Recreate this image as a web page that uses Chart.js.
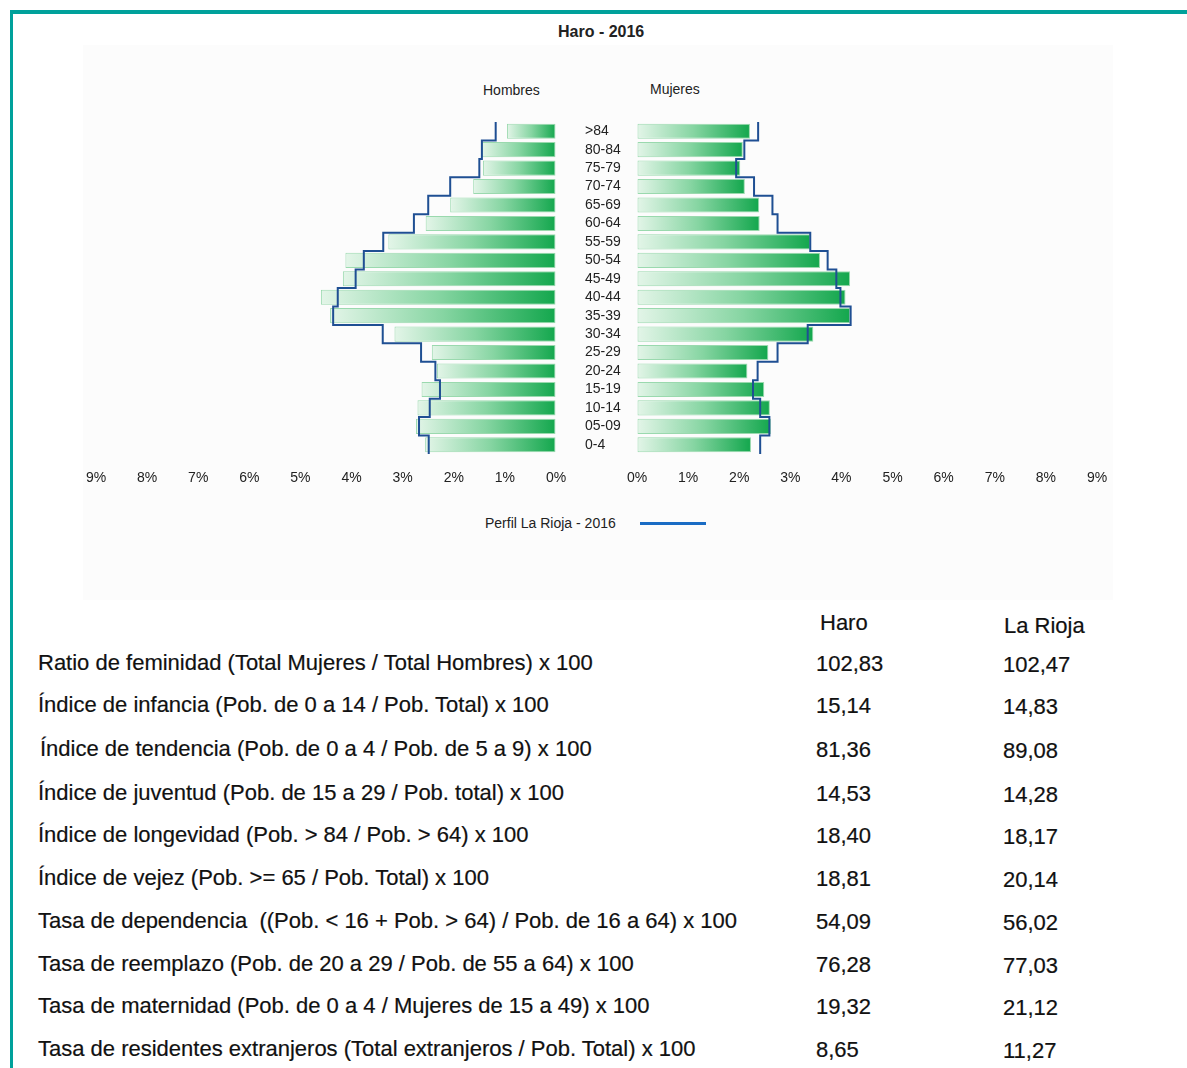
<!DOCTYPE html>
<html>
<head>
<meta charset="utf-8">
<script src="https://cdn.jsdelivr.net/npm/chart.js@4.4.1/dist/chart.umd.min.js"></script>
<style>
  html, body { margin: 0; padding: 0; background: #fff; }
  body { width: 1187px; height: 1068px; position: relative; overflow: hidden;
         font-family: "Liberation Sans", Arial, sans-serif; color: #1a1a1a; }
  #frame { position: absolute; left: 10px; top: 10px; width: 1200px; height: 1100px;
           border-top: 4px solid #00a19b; border-left: 3px solid #00a19b; }
  #chartbg { position: absolute; left: 83px; top: 45px; width: 1030px; height: 555px; background: #fcfcfc; }
  .lbl { position: absolute; white-space: nowrap; font-size: 14px; line-height: 16px; color: #222; }
  #title { left: 558px; top: 24px; font-weight: bold; font-size: 16px; }
  #legline { position: absolute; left: 640px; top: 522px; width: 66px; height: 3px; background: #1a6cc4; }
  canvas { position: absolute; }
  #left { left: 60px; top: 100px; }
  #right { left: 585px; top: 100px; }
  .t { position: absolute; white-space: pre; font-size: 22px; line-height: 24px; color: #111;
       -webkit-text-stroke: 0.2px #111; }
</style>
</head>
<body>
<div id="frame"></div>
<div id="chartbg"></div>
<div class="lbl" id="title">Haro - 2016</div>
<div class="lbl" style="left:483px; top:82px;">Hombres</div>
<div class="lbl" style="left:650px; top:81px;">Mujeres</div>
<div class="lbl" style="left:485px; top:515px;">Perfil La Rioja - 2016</div>
<div id="legline"></div>
<canvas id="left" width="520" height="390"></canvas>
<canvas id="right" width="540" height="390"></canvas>
<div id="table"></div>
<script>
const ageGroups = ['>84','80-84','75-79','70-74','65-69','60-64','55-59','50-54','45-49',
                   '40-44','35-39','30-34','25-29','20-24','15-19','10-14','05-09','0-4'];
// % of population, Haro 2016
const hombres = [0.96,1.45,1.43,1.62,2.07,2.55,3.28,4.12,4.17,4.60,4.42,3.16,2.43,2.33,2.63,2.71,2.74,2.56];
const mujeres = [2.21,2.07,2.02,2.11,2.39,2.40,3.39,3.58,4.17,4.08,4.17,3.45,2.57,2.16,2.49,2.60,2.62,2.23];
// La Rioja profile
const riojaHombres = [1.18,1.45,1.50,2.07,2.50,2.78,3.38,3.76,3.92,4.27,4.36,3.39,2.64,2.36,2.27,2.47,2.68,2.49];
const riojaMujeres = [2.37,2.10,1.94,2.29,2.65,2.75,3.39,3.73,3.90,3.98,4.18,3.34,2.75,2.36,2.27,2.41,2.59,2.41];

const indicators = [
  'Ratio de feminidad (Total Mujeres / Total Hombres) x 100',
  'Índice de infancia (Pob. de 0 a 14 / Pob. Total) x 100',
  'Índice de tendencia (Pob. de 0 a 4 / Pob. de 5 a 9) x 100',
  'Índice de juventud (Pob. de 15 a 29 / Pob. total) x 100',
  'Índice de longevidad (Pob. > 84 / Pob. > 64) x 100',
  'Índice de vejez (Pob. >= 65 / Pob. Total) x 100',
  'Tasa de dependencia  ((Pob. < 16 + Pob. > 64) / Pob. de 16 a 64) x 100',
  'Tasa de reemplazo (Pob. de 20 a 29 / Pob. de 55 a 64) x 100',
  'Tasa de maternidad (Pob. de 0 a 4 / Mujeres de 15 a 49) x 100',
  'Tasa de residentes extranjeros (Total extranjeros / Pob. Total) x 100'
];
const haroValues = ['102,83','15,14','81,36','14,53','18,40','18,81','54,09','76,28','19,32','8,65'];
const riojaValues = ['102,47','14,83','89,08','14,28','18,17','20,14','56,02','77,03','21,12','11,27'];

// table text
const table = document.getElementById('table');
const rowY = [651, 693, 737, 781, 823, 866, 909, 952, 994, 1037];
const addText = (txt, x, y) => {
  const d = document.createElement('div');
  d.className = 't'; d.textContent = txt;
  d.style.left = x + 'px'; d.style.top = y + 'px';
  table.appendChild(d);
};
addText('Haro', 820, 611);
addText('La Rioja', 1004, 614);
indicators.forEach((s, i) => {
  addText(s, i === 2 ? 40 : 38, rowY[i]);
  addText(haroValues[i], 816, rowY[i] + 1);
  addText(riojaValues[i], 1003, rowY[i] + 2);
});

function barFill(c) {
  const chart = c.chart;
  const xs = chart.scales.x;
  if (!xs || !c.parsed || !chart.chartArea) return '#5cc585';
  const a = xs.getPixelForValue(0), b = xs.getPixelForValue(c.parsed.x);
  const g = chart.ctx.createLinearGradient(Math.min(a, b), 0, Math.max(a, b), 0);
  g.addColorStop(0, '#e3f5e8');
  g.addColorStop(0.5, '#86d5a2');
  g.addColorStop(1, '#13a74d');
  return g;
}

// step outline: each age group gets a vertical segment across its band
function stepPoints(vals) {
  const pts = [];
  vals.forEach((v, i) => { pts.push({ x: v, y: i - 0.5 }); pts.push({ x: v, y: i + 0.5 }); });
  return pts;
}

function makeChart(id, barData, lineData, isLeft) {
  return new Chart(document.getElementById(id), {
    type: 'bar',
    data: {
      labels: ageGroups,
      datasets: [
        {
          type: 'line',
          data: stepPoints(lineData),
          parsing: false,
          borderColor: '#1f4f93',
          borderWidth: 2,
          pointRadius: 0,
          fill: false,
          order: 0
        },
        {
          data: barData,
          backgroundColor: barFill,
          borderColor: '#9ad9ae',
          borderWidth: 1,
          borderSkipped: false,
          grouped: false,
          barPercentage: 0.82,
          categoryPercentage: 1,
          order: 1
        }
      ]
    },
    options: {
      indexAxis: 'y',
      responsive: false,
      animation: false,
      layout: { padding: isLeft ? { left: 36, right: 24, top: 22, bottom: 6 } : { left: 0, right: 28, top: 22, bottom: 6 } },
      plugins: { legend: { display: false }, tooltip: { enabled: false } },
      scales: {
        x: {
          min: 0, max: 9, reverse: isLeft,
          // invisible tick marks give the gap under the bars
          grid: { display: true, drawOnChartArea: false, drawTicks: true, tickLength: 12, color: 'rgba(0,0,0,0)' },
          border: { display: false },
          afterFit: s => { s.height = 30; },
          ticks: { stepSize: 1, padding: 4, color: '#222', font: { size: 14, family: 'Liberation Sans' },
                   callback: v => v + '%' }
        },
        y: {
          display: !isLeft,
          grid: { display: false, drawTicks: false },
          border: { display: false },
          afterFit: s => { if (!isLeft) s.width = 52; },
          ticks: { autoSkip: false, crossAlign: 'far', padding: 0, color: '#222',
                   font: { size: 14, family: 'Liberation Sans' } }
        }
      }
    }
  });
}

makeChart('left', hombres, riojaHombres, true);
makeChart('right', mujeres, riojaMujeres, false);
</script>
</body>
</html>
